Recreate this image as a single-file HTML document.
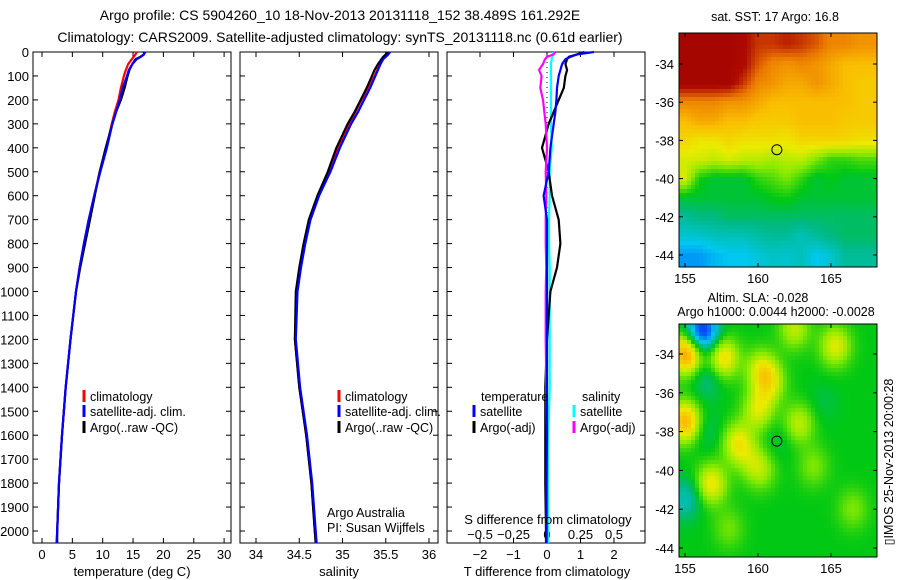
<!DOCTYPE html>
<html><head><meta charset="utf-8">
<style>
html,body{margin:0;padding:0;background:#fff;}
svg{display:block;font-family:"Liberation Sans",sans-serif;}
</style></head>
<body>
<svg id="fig" width="900" height="580" viewBox="0 0 900 580" xmlns="http://www.w3.org/2000/svg">
<rect width="900" height="580" fill="#fff"/>
<text x="340" y="20" font-size="14" text-anchor="middle">Argo profile: CS 5904260_10 18-Nov-2013 20131118_152 38.489S 161.292E</text>
<text x="340" y="42" font-size="14" text-anchor="middle">Climatology: CARS2009. Satellite-adjusted climatology: synTS_20131118.nc (0.61d earlier)</text>
<g id="g"></g>
</svg>
<script>
// ---- data ----
const depths = [0,10,20,30,50,75,100,150,200,250,300,400,500,600,700,800,900,1000,1200,1400,1600,1800,2000,2050];
const tempClim = [15.6,15.4,15.1,14.8,14.2,13.8,13.5,13.0,12.6,12.0,11.5,10.6,9.5,8.6,7.7,6.9,6.2,5.6,4.7,3.9,3.3,2.8,2.5,2.4];
const tempSat  = [17.0,16.8,16.3,15.6,14.9,14.3,14.0,13.3,12.8,12.2,11.6,10.7,9.6,8.6,7.7,6.9,6.2,5.6,4.7,3.9,3.3,2.8,2.5,2.4];
const tempArgo = [16.8,16.8,16.2,15.4,14.9,14.4,14.1,13.6,13.0,12.2,11.6,10.5,9.5,8.7,7.9,7.1,6.3,5.6,4.7,3.9,3.3,2.8,2.5,2.5];
const salClim = [35.52,35.50,35.48,35.46,35.43,35.40,35.37,35.30,35.22,35.15,35.08,34.95,34.84,34.72,34.62,34.56,34.51,34.47,34.45,34.50,34.58,34.64,34.68,34.69];
const salSat  = [35.55,35.53,35.50,35.47,35.44,35.41,35.38,35.32,35.25,35.18,35.10,34.97,34.86,34.73,34.63,34.57,34.52,34.48,34.46,34.51,34.59,34.65,34.69,34.70];
const salArgo = [35.52,35.50,35.47,35.45,35.41,35.37,35.34,35.28,35.21,35.14,35.06,34.93,34.83,34.71,34.61,34.55,34.50,34.46,34.45,34.50,34.58,34.64,34.68,34.69];
const dTsat  = [1.4,0.9,0.7,0.55,0.45,0.4,0.35,0.3,0.28,0.25,0.2,0.1,0.05,-0.1,0.0,0.0,0.0,0.0,0.0,0.0,0.0,-0.02,-0.02,-0.02];
const dTargo = [1.1,0.9,0.65,0.6,0.55,0.6,0.55,0.5,0.35,0.2,0.05,-0.15,0.05,0.15,0.35,0.4,0.3,0.1,0.0,-0.05,-0.05,-0.05,-0.03,-0.03];
const dSsat  = [0.045,0.045,0.04,0.035,0.03,0.03,0.03,0.03,0.03,0.03,0.03,0.035,0.02,0.02,0.015,0.015,0.02,0.02,0.02,0.02,0.01,0.01,0.01,0.01];
const dSargo = [0.06,0.05,0.0,-0.015,-0.03,-0.06,-0.04,-0.05,-0.03,-0.02,-0.01,0.0,-0.01,-0.005,-0.01,-0.01,-0.005,-0.01,-0.01,-0.005,0,0,0,0];
const depthTicks = [0,100,200,300,400,500,600,700,800,900,1000,1100,1200,1300,1400,1500,1600,1700,1800,1900,2000];
const tempTicks = [0,5,10,15,20,25,30];
const salTicks = [34,34.5,35,35.5,36];
const salTickLabels = ["34","34.5","35","35.5","36"];
const dTTicks = [-2,-1,0,1,2];
const dSTicks = [-0.5,-0.25,0,0.25,0.5];
const dSTickLabels = ["\u22120.5","\u22120.25","0","0.25","0.5"];
const latTicks = [-34,-36,-38,-40,-42,-44];
const lonTicks = [155,160,165];
const sstLats = [-33,-34,-35,-36,-37,-38,-39,-40,-41,-42,-43,-44];
const sstLons = [155,156,157,158,159,160,161,162,163,164,165,166,167];
const sstGrid = [
[0.95,0.95,0.95,0.95,0.93,0.88,0.88,0.9,0.88,0.85,0.8,0.8,0.78],
[0.95,0.95,0.95,0.95,0.93,0.85,0.8,0.78,0.8,0.78,0.75,0.72,0.72],
[0.95,0.95,0.95,0.95,0.88,0.8,0.78,0.75,0.75,0.78,0.75,0.72,0.7],
[0.8,0.8,0.8,0.78,0.78,0.75,0.72,0.72,0.72,0.72,0.72,0.72,0.7],
[0.72,0.75,0.75,0.72,0.72,0.7,0.7,0.7,0.72,0.72,0.72,0.7,0.7],
[0.68,0.65,0.65,0.68,0.66,0.66,0.66,0.65,0.68,0.68,0.68,0.68,0.66],
[0.62,0.62,0.6,0.62,0.6,0.6,0.58,0.6,0.6,0.55,0.5,0.5,0.52],
[0.62,0.48,0.45,0.45,0.45,0.5,0.52,0.55,0.5,0.45,0.47,0.45,0.45],
[0.45,0.45,0.45,0.45,0.45,0.45,0.47,0.48,0.45,0.45,0.45,0.45,0.45],
[0.38,0.4,0.4,0.42,0.42,0.42,0.42,0.42,0.42,0.42,0.42,0.42,0.42],
[0.33,0.33,0.35,0.35,0.35,0.37,0.38,0.38,0.35,0.38,0.4,0.42,0.42],
[0.25,0.25,0.28,0.3,0.3,0.32,0.34,0.33,0.35,0.3,0.33,0.38,0.38]];
const slaBase = 0.47;
const blobLon = [156.2,155.1,157.6,156.5,160.2,160.8,165.3,162.5,155.0,160.0,158.6,156.8,160.2,162.8,163.8,156.5,155.0,166.5,158.0,164.5,159.5,161.5];
const blobLat = [-32.8,-34.0,-34.2,-35.3,-34.8,-35.5,-33.6,-32.7,-37.5,-36.9,-38.6,-40.7,-40.0,-37.6,-39.8,-38.0,-41.5,-42.0,-43.0,-36.5,-39.5,-38.5];
const blobAmp = [-0.35,0.3,0.2,-0.08,0.14,0.14,0.16,0.13,0.26,0.15,0.17,0.18,0.1,0.13,0.08,-0.05,-0.12,0.08,0.07,-0.03,0.06,-0.03];
const argoLon = 161.292, argoLat = -38.489;
const cmapStops = [0,0.18,0.3,0.4,0.47,0.56,0.64,0.72,0.82,0.92,1];
const cmapR = [0,0,0,0,0,140,235,250,235,175,150];
const cmapG = [0,90,200,185,200,235,235,190,120,10,0];
const cmapB = [140,255,240,130,20,0,0,0,0,0,0];

// ---- helpers ----
const NS="http://www.w3.org/2000/svg";
const G=document.getElementById('g');
function el(tag,attrs,parent){const e=document.createElementNS(NS,tag);for(const k in attrs)e.setAttribute(k,attrs[k]);(parent||G).appendChild(e);return e;}
function txt(x,y,s,size,anchor,parent){const t=el('text',{x:x,y:y,'font-size':size||13,'text-anchor':anchor||'middle'},parent);t.textContent=s;return t;}
const Y0=52, YS=0.2395;
const yD = d => Y0 + d*YS;
const PB = 543;
function cmap(v){v=Math.max(0,Math.min(1,v));
 let k=0;while(k<cmapStops.length-2&&v>cmapStops[k+1])k++;
 const a=(v-cmapStops[k])/(cmapStops[k+1]-cmapStops[k]);
 const f=c=>Math.round(c[k]+(c[k+1]-c[k])*a);
 return `rgb(${f(cmapR)},${f(cmapG)},${f(cmapB)})`;}

function panel(x0,x1,name,showDepthLabels){
 const g=el('g',{});
 
 
 const r=el('rect',{x:x0,y:Y0,width:x1-x0,height:PB-Y0,fill:'none',stroke:'#000','stroke-width':1},g);
 
 
 depthTicks.forEach(d=>{el('line',{x1:x0,x2:x0+5,y1:yD(d),y2:yD(d),stroke:'#000'},g);
   el('line',{x1:x1,x2:x1-5,y1:yD(d),y2:yD(d),stroke:'#000'},g);
   if(showDepthLabels){const t=txt(x0-4,yD(d)+5,String(d),13,'end',g);
     
     }});
 return g;}
function xTicks(g,ticks,labels,fx,ly,top){
 ticks.forEach((v,i)=>{const x=fx(v);
  el('line',{x1:x,x2:x,y1:PB,y2:PB-5,stroke:'#000'},g);
  if(top)el('line',{x1:x,x2:x,y1:Y0,y2:Y0+5,stroke:'#000'},g);
  const t=txt(x,ly,labels[i],13,'middle',g);
  
  });}
function line(g,xs,fx,color,name,w){
 const pts=xs.map((v,i)=>fx(v).toFixed(1)+','+yD(depths[i]).toFixed(1)).join(' ');
 const p=el('polyline',{points:pts,fill:'none',stroke:color,'stroke-width':w||2.2,'stroke-linejoin':'round'},g);
 
 }
function legendEntry(g,x,y,color,label,name){
 el('line',{x1:x,x2:x,y1:y-11,y2:y+1,stroke:color,'stroke-width':3},g);
 const t=txt(x+6,y,label,12.5,'start',g);
 
 }

// Panel 1 temperature
const fT = v => 42 + v*6.07;
const p1=panel(33,231,'temperature-panel',true);
xTicks(p1,tempTicks,tempTicks.map(String),fT,559,true);
line(p1,tempClim,fT,'#f00','temp-climatology-line');
line(p1,tempArgo,fT,'#000','temp-argo-line');
line(p1,tempSat,fT,'#00f','temp-satellite-line');
const xl1=txt(132,576,'temperature (deg C)',13,'middle',p1);


legendEntry(p1,84,401,'#f00','climatology','legend-climatology');
legendEntry(p1,84,416,'#00f','satellite-adj. clim.','legend-satellite');
legendEntry(p1,84,432,'#000','Argo(..raw -QC)','legend-argo');

// Panel 2 salinity
const fS = v => 256 + (v-34)*86.5;
const p2=panel(240,438,'salinity-panel',false);
xTicks(p2,salTicks,salTickLabels,fS,559,true);
line(p2,salClim,fS,'#f00','sal-climatology-line');
line(p2,salArgo,fS,'#000','sal-argo-line');
line(p2,salSat,fS,'#00f','sal-satellite-line');
const xl2=txt(339,576,'salinity',13,'middle',p2);


legendEntry(p2,339,401,'#f00','climatology','legend-climatology-2');
legendEntry(p2,339,416,'#00f','satellite-adj. clim.','legend-satellite-2');
legendEntry(p2,339,432,'#000','Argo(..raw -QC)','legend-argo-2');
const aa=txt(327,517,'Argo Australia',12.5,'start',p2);


const pi=txt(327,532,'PI: Susan Wijffels',12.5,'start',p2);



// Panel 3 differences
const fDT = v => 547 + v*33.5;
const fDS = v => 547 + v*134;
const p3=panel(447,645,'difference-panel',false);
xTicks(p3,dTTicks,dTTicks.map(v=>v<0?'\u2212'+(-v):String(v)),fDT,559,false);
dSTicks.forEach((v,i)=>{const x=fDS(v);el('line',{x1:x,x2:x,y1:Y0,y2:Y0+5,stroke:'#000'},p3);
 const t=txt(x,539,dSTickLabels[i],13,'middle',p3);
 
 });
el('line',{x1:547,x2:547,y1:Y0,y2:PB,stroke:'#000','stroke-dasharray':'1,4'},p3);
line(p3,dSsat,fDS,'#0ff','sdiff-satellite-line');
line(p3,dTargo,fDT,'#000','tdiff-argo-line');
line(p3,dSargo,fDS,'#f0f','sdiff-argo-line');
line(p3,dTsat,fDT,'#00f','tdiff-satellite-line');
const sl=txt(548,524,'S difference from climatology',13,'middle',p3);


const tl=txt(547,576,'T difference from climatology',13,'middle',p3);


const lt=txt(481,401,'temperature',12.5,'start',p3);


const ls=txt(582,401,'salinity',12.5,'start',p3);


legendEntry(p3,474,416,'#00f','satellite','legend-t-satellite');
legendEntry(p3,474,432,'#000','Argo(-adj)','legend-t-argo');
legendEntry(p3,574,416,'#0ff','satellite','legend-s-satellite');
legendEntry(p3,574,432,'#f0f','Argo(-adj)','legend-s-argo');

// Maps
const MX0=679, MX1=877, LONS=14.6, LON0=155, LONX=685;
const fLon = v => LONX + (v-LON0)*LONS;
function map(y0,y1,latY34,latS,name,valueFn){
 const g=el('g',{});
 
 
 const fLat = v => latY34 + (-34 - v)*latS;
 const cell=4;
 for(let x=MX0;x<MX1;x+=cell)for(let y=y0;y<y1;y+=cell){
  const lon=LON0+(x+cell/2-LONX)/LONS, lat=-34-(y+cell/2-latY34)/latS;
  el('rect',{x:x,y:y,width:Math.min(cell,MX1-x),height:Math.min(cell,y1-y),fill:cmap(valueFn(lon,lat))},g);}
 const fr=el('rect',{x:MX0,y:y0,width:MX1-MX0,height:y1-y0,fill:'none',stroke:'#000'},g);
 
 
 latTicks.forEach(v=>{const y=fLat(v);el('line',{x1:MX0,x2:MX0+4,y1:y,y2:y,stroke:'#000'},g);el('line',{x1:MX1,x2:MX1-4,y1:y,y2:y,stroke:'#000'},g);
  const t=txt(MX0-5,y+5,String(v),13,'end',g);
  
  });
 lonTicks.forEach(v=>{const x=fLon(v);el('line',{x1:x,x2:x,y1:y1,y2:y1-4,stroke:'#000'},g);el('line',{x1:x,x2:x,y1:y0,y2:y0+4,stroke:'#000'},g);
  const t=txt(x,y1+16,String(v),13,'middle',g);
  
  });
 const c=el('circle',{cx:fLon(argoLon),cy:fLat(argoLat),r:5,fill:'none',stroke:'#000','stroke-width':1},g);
 
 
 return g;}
function sstVal(lon,lat){
 let fi=(-33-lat), fj=(lon-155);
 fi=Math.max(0,Math.min(sstLats.length-1,fi)); fj=Math.max(0,Math.min(sstLons.length-1,fj));
 const i0=Math.floor(fi),j0=Math.floor(fj),i1=Math.min(i0+1,sstLats.length-1),j1=Math.min(j0+1,sstLons.length-1);
 const a=fi-i0,b=fj-j0;
 return sstGrid[i0][j0]*(1-a)*(1-b)+sstGrid[i1][j0]*a*(1-b)+sstGrid[i0][j1]*(1-a)*b+sstGrid[i1][j1]*a*b;}
function slaVal(lon,lat){let v=slaBase;
 for(let k=0;k<blobLon.length;k++){const dx=lon-blobLon[k],dy=lat-blobLat[k];v+=blobAmp[k]*Math.exp(-(dx*dx+dy*dy)/(2*0.75*0.75));}
 return v;}
map(33,267,64,19.1,'sst-map',sstVal);
map(324,557,354,19.4,'sla-map',slaVal);
const t1=txt(775,21,'sat. SST: 17 Argo: 16.8',12.5,'middle');


const t2=txt(758,302,'Altim. SLA: -0.028',12.5,'middle');


const t3=txt(776,316,'Argo h1000: 0.0044 h2000: -0.0028',12.5,'middle');


const t4=txt(0,0,'\u25AFIMOS 25-Nov-2013 20:00:28',12.5,'middle');
t4.setAttribute('transform','translate(893,462) rotate(-90)');


</script>
</body></html>
